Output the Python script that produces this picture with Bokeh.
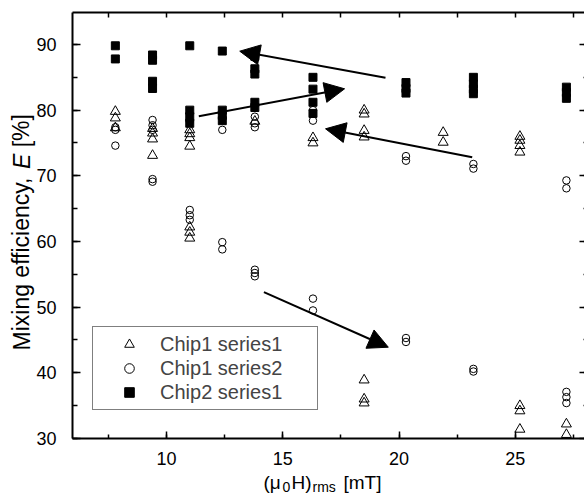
from bokeh.plotting import figure
from bokeh.models import (Range1d, LinearAxis, SingleIntervalTicker, Arrow,
                          NormalHead, Label, ColumnDataSource)
from bokeh.embed import file_html
from bokeh.resources import INLINE

# ---------------- data ----------------
c1s1_x = [7.8, 7.8, 7.8,
          9.4, 9.4, 9.4, 9.4,
          11.0, 11.0, 11.0, 11.0, 11.0, 11.0, 11.0,
          13.8,
          16.3, 16.3,
          18.5, 18.5, 18.5, 18.5, 18.5, 18.5, 18.5,
          21.9, 21.9,
          25.2, 25.2, 25.2, 25.2, 25.2, 25.2, 25.2,
          27.2, 27.2]
c1s1_y = [79.8, 78.8, 77.3,
          77.2, 76.5, 75.6, 73.1,
          77.0, 76.4, 75.8, 74.5, 62.2, 61.4, 60.5,
          78.3,
          75.8, 75.0,
          80.0, 79.4, 76.9, 75.9, 38.9, 36.0, 35.4,
          76.6, 75.1,
          76.0, 75.4, 74.6, 73.6, 35.0, 34.2, 31.4,
          32.2, 30.6]

c1s2_x = [7.8, 7.8, 7.8,
          9.4, 9.4, 9.4, 9.4, 9.4,
          11.0, 11.0, 11.0, 11.0,
          12.4, 12.4, 12.4,
          13.8, 13.8, 13.8, 13.8, 13.8, 13.8,
          16.3, 16.3, 16.3, 16.3,
          20.3, 20.3, 20.3, 20.3,
          23.2, 23.2, 23.2, 23.2,
          27.2, 27.2, 27.2, 27.2, 27.2]
c1s2_y = [77.4, 77.0, 74.6,
          78.5, 77.7, 77.0, 69.5, 69.1,
          78.3, 64.8, 64.0, 63.3,
          77.0, 59.9, 58.8,
          79.0, 78.0, 77.4, 55.7, 55.2, 54.7,
          80.0, 78.4, 51.3, 49.5,
          73.0, 72.3, 45.3, 44.7,
          71.8, 71.1, 40.6, 40.2,
          69.3, 68.1, 37.1, 36.3, 35.4]

c2s1_x = [7.8, 7.8,
          9.4, 9.4, 9.4, 9.4,
          11.0, 11.0, 11.0, 11.0,
          12.4, 12.4, 12.4, 12.4,
          13.8, 13.8, 13.8, 13.8, 13.8,
          16.3, 16.3, 16.3, 16.3,
          20.3, 20.3, 20.3,
          23.2, 23.2, 23.2, 23.2,
          27.2, 27.2, 27.2]
c2s1_y = [89.8, 87.8,
          88.4, 87.6, 84.4, 83.3,
          89.8, 80.0, 79.0, 78.0,
          89.0, 80.0, 79.2, 78.4,
          88.2, 86.3, 85.5, 81.2, 80.4,
          85.0, 83.2, 81.2, 79.5,
          84.2, 83.3, 82.6,
          85.0, 84.0, 83.2, 82.5,
          83.5, 82.7, 81.8]

arrow_x0 = [19.42, 11.39, 23.15, 14.19]
arrow_y0 = [84.93, 79.08, 72.84, 52.28]
arrow_x1 = [13.15, 17.66, 16.84, 19.54]
arrow_y1 = [88.98, 83.25, 77.16, 43.90]

series_names = ["Chip1 series1", "Chip1 series2", "Chip2 series1"]

# axis box in data units
X_MIN, X_MAX = 5.957, 28.06
Y_MIN, Y_MAX = 30.0, 94.87

FONT = "Liberation Sans"
W, H = 584, 494

# pixel <-> data helpers (the frame fills the canvas)
def dx(px):
    return 10 + (px - 166) / 23.25

def dy(py):
    return 30 + (438 - py) / 6.567

p = figure(width=W, height=H, title=None,
           x_range=Range1d(dx(0), dx(W)), y_range=Range1d(dy(H), dy(0)),
           output_backend="svg", toolbar_location=None, min_border=0)
p.xgrid.visible = False
p.ygrid.visible = False
p.outline_line_color = None
p.background_fill_color = "white"
p.border_fill_color = "white"

def style_axis(ax, labels=True, tin=7, minin=4):
    ax.axis_line_width = 2
    ax.axis_line_color = "black"
    ax.major_tick_in = tin
    ax.major_tick_out = 0
    ax.minor_tick_in = minin
    ax.minor_tick_out = 0
    ax.major_tick_line_width = 1.5
    ax.minor_tick_line_width = 1.5
    ax.major_tick_line_color = "black"
    ax.minor_tick_line_color = "black"
    ax.axis_label = None
    if labels:
        ax.major_label_text_font = FONT
        ax.major_label_text_font_size = "18px"
        ax.major_label_text_color = "black"
    else:
        ax.major_label_text_color = None

xa = p.xaxis[0]
xa.ticker = SingleIntervalTicker(interval=5, num_minor_ticks=2)
style_axis(xa)
xa.fixed_location = Y_MIN
xa.bounds = (X_MIN, X_MAX)
xa.major_label_standoff = 13

ya = p.yaxis[0]
ya.ticker = SingleIntervalTicker(interval=10, num_minor_ticks=2)
style_axis(ya, tin=8, minin=5)
ya.fixed_location = X_MIN
ya.bounds = (Y_MIN, Y_MAX)
ya.major_label_standoff = 16

top = LinearAxis(ticker=SingleIntervalTicker(interval=2.5, num_minor_ticks=0))
style_axis(top, labels=False, tin=5, minin=0)
top.fixed_location = Y_MAX
top.bounds = (X_MIN, X_MAX)
p.add_layout(top, "above")

right = LinearAxis(ticker=SingleIntervalTicker(interval=10, num_minor_ticks=2))
style_axis(right, labels=False, tin=7, minin=3)
right.fixed_location = X_MAX
right.bounds = (Y_MIN, Y_MAX)
p.add_layout(right, "right")

p.scatter(c2s1_x, c2s1_y, marker="square", size=8, line_color="black",
          fill_color="black", legend_label=series_names[2])
p.scatter(c1s1_x, c1s1_y, marker="triangle", size=10, line_color="black",
          fill_color=None, line_width=1, legend_label=series_names[0])
p.scatter(c1s2_x, c1s2_y, marker="circle", size=7.5, line_color="black",
          fill_color=None, line_width=1, legend_label=series_names[1])

lg = p.legend[0]
lg.items = [lg.items[1], lg.items[2], lg.items[0]]
lg.location = (92, H - 410)
lg.margin = 0
lg.padding = 5
lg.spacing = 0
lg.border_line_color = "black"
lg.border_line_width = 1
lg.background_fill_alpha = 1
lg.label_text_font = FONT
lg.label_text_font_size = "20px"
lg.label_height = 24
lg.glyph_height = 24
lg.glyph_width = 62
lg.label_standoff = 0
lg.label_width = 152

asrc = ColumnDataSource(dict(x0=arrow_x0, y0=arrow_y0, x1=arrow_x1, y1=arrow_y1))
p.add_layout(Arrow(end=NormalHead(size=20, fill_color="black", line_color="black"),
                   x_start="x0", y_start="y0", x_end="x1", y_end="y1",
                   line_width=2, line_color="black", source=asrc))

# x-axis label: (mu0 H)rms [mT]
xl_main = 482
xl_sub = 486
for txt, px, sub in [("(\u03bc", 263, False), ("0", 282, True), ("H)", 291, False),
                     ("rms", 312, True), ("[mT]", 343, False)]:
    p.add_layout(Label(x=dx(px), y=dy(xl_sub if sub else xl_main), text=txt,
                       text_font=FONT, text_font_size="14px" if sub else "19px",
                       text_align="left", text_baseline="alphabetic",
                       text_color="black"))

# y-axis label: Mixing efficiency, E [%]  (reads bottom to top)
ylx = dx(21)
y_fs = 23
y_start = 350
e_center = y_start - 7.613 * y_fs - 0.278 * y_fs - 0.333 * y_fs
p.add_layout(Label(x=ylx, y=dy(y_start), text="Mixing efficiency,", angle=1.5708,
                   text_font=FONT, text_font_size=f"{y_fs}px", text_align="left",
                   text_baseline="middle", text_color="black"))
p.add_layout(Label(x=ylx, y=dy(e_center), text="E", angle=1.5708,
                   text_font=FONT, text_font_size=f"{y_fs}px", text_font_style="italic",
                   text_align="center", text_baseline="middle", text_color="black"))
p.add_layout(Label(x=ylx, y=dy(e_center - 0.333 * y_fs - 0.278 * y_fs), text="[%]",
                   angle=1.5708, text_font=FONT, text_font_size=f"{y_fs}px",
                   text_align="left", text_baseline="middle", text_color="black"))

open("out.html", "w").write(file_html(p, INLINE))
